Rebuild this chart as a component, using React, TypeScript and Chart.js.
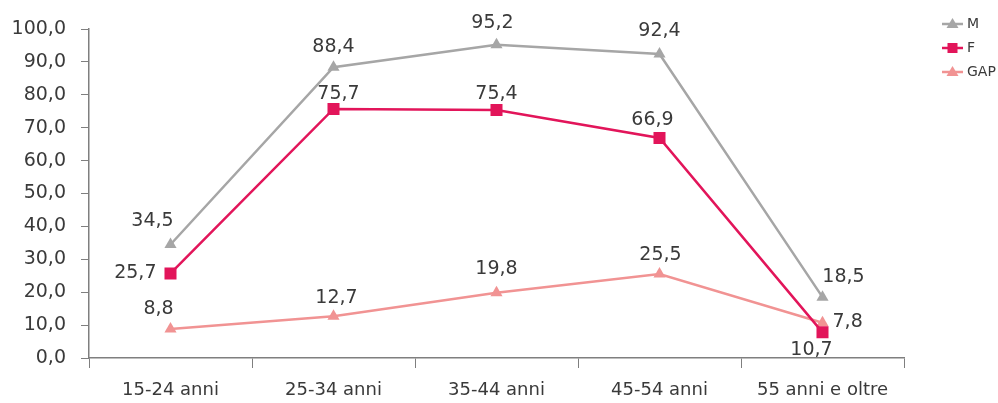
import React, { useEffect, useRef } from "react";
import { Chart, registerables } from "chart.js";

Chart.register(...registerables);

const categories = ["15-24 anni", "25-34 anni", "35-44 anni", "45-54 anni", "55 anni e oltre"];
const seriesM = [34.5, 88.4, 95.2, 92.4, 18.5];
const seriesF = [25.7, 75.7, 75.4, 66.9, 7.8];
const seriesGAP = [8.8, 12.7, 19.8, 25.5, 10.7];
const yTicks = [0, 10, 20, 30, 40, 50, 60, 70, 80, 90, 100];

// label placement: [dx, dy, align]
const labelPos: Record<string, [number, number, CanvasTextAlign][]> = {
  M: [[-18, -23, "center"], [0, -20, "center"], [-4, -22, "center"], [0, -23, "center"], [21, -20, "center"]],
  F: [[-14, 0, "right"], [5, -15, "center"], [0, -16, "center"], [-7, -18, "center"], [10, -10, "left"]],
  GAP: [[-12, -20, "center"], [3, -18, "center"], [0, -24, "center"], [1, -19, "center"], [-11, 27, "center"]],
};

const FONT = "'DejaVu Sans', sans-serif";
const fmt = (v: number) => v.toFixed(1).replace(".", ",");

const labelsPlugin = {
  id: "dataLabels",
  afterDatasetsDraw(chart: any) {
    const ctx = chart.ctx;
    ctx.save();
    ctx.font = `19px ${FONT}`;
    ctx.fillStyle = "#3a3a3a";
    ctx.textBaseline = "middle";
    chart.data.datasets.forEach((ds: any, i: number) => {
      const meta = chart.getDatasetMeta(i);
      const pos = labelPos[ds.label];
      meta.data.forEach((pt: any, j: number) => {
        const [dx, dy, align] = pos[j];
        ctx.textAlign = align;
        ctx.fillText(fmt(ds.data[j]), pt.x + dx, pt.y + dy);
      });
    });
    ctx.restore();
  },
};

const legendPlugin = {
  id: "customLegend",
  afterDraw(chart: any) {
    const ctx = chart.ctx;
    ctx.save();
    const x0 = 942;
    const rows = [24, 48, 72];
    chart.data.datasets.forEach((ds: any, i: number) => {
      const y = rows[i];
      ctx.strokeStyle = ds.borderColor;
      ctx.lineWidth = 2.5;
      ctx.beginPath();
      ctx.moveTo(x0, y);
      ctx.lineTo(x0 + 21, y);
      ctx.stroke();
      ctx.fillStyle = ds.borderColor;
      const cx = x0 + 10.5;
      if (ds.pointStyle === "rect") {
        ctx.fillRect(cx - 5, y - 5, 10, 10);
      } else {
        ctx.beginPath();
        ctx.moveTo(cx, y - 6);
        ctx.lineTo(cx + 6, y + 4);
        ctx.lineTo(cx - 6, y + 4);
        ctx.closePath();
        ctx.fill();
      }
      ctx.fillStyle = "#3a3a3a";
      ctx.font = `14px ${FONT}`;
      ctx.textAlign = "left";
      ctx.textBaseline = "middle";
      ctx.fillText(ds.label, x0 + 25, y);
    });
    ctx.restore();
  },
};

export default function App() {
  const ref = useRef<HTMLCanvasElement>(null);
  useEffect(() => {
    if (!ref.current) return;
    const chart = new Chart(ref.current, {
      type: "line",
      data: {
        labels: categories,
        datasets: [
          {
            label: "M",
            data: seriesM,
            borderColor: "#a6a6a6",
            backgroundColor: "#a6a6a6",
            borderWidth: 2.5,
            pointStyle: "triangle",
            pointRadius: 7,
            pointBorderWidth: 0,
            tension: 0,
          },
          {
            label: "F",
            data: seriesF,
            borderColor: "#e2155a",
            backgroundColor: "#e2155a",
            borderWidth: 2.5,
            pointStyle: "rect",
            pointRadius: 8.5,
            pointBorderWidth: 0,
            tension: 0,
          },
          {
            label: "GAP",
            data: seriesGAP,
            borderColor: "#f19393",
            backgroundColor: "#f19393",
            borderWidth: 2.5,
            pointStyle: "triangle",
            pointRadius: 7,
            pointBorderWidth: 0,
            tension: 0,
          },
        ],
      },
      options: {
        animation: false,
        responsive: true,
        maintainAspectRatio: false,
        layout: { padding: { top: 29, right: 94, left: 12, bottom: 1 } },
        plugins: {
          legend: { display: false },
          tooltip: { enabled: false },
        },
        scales: {
          x: {
            offset: true,
            afterFit: (axis: any) => {
              axis.height = 44;
              axis.paddingLeft = 0;
              axis.paddingRight = 0;
            },
            grid: {
              display: true,
              offset: true,
              drawOnChartArea: false,
              drawTicks: true,
              tickLength: 10,
              color: "#7f7f7f",
            },
            border: { color: "#7f7f7f", width: 1.5 },
            ticks: {
              color: "#3a3a3a",
              font: { family: FONT, size: 18 },
              padding: 12,
              maxRotation: 0,
            },
          },
          y: {
            min: 0,
            max: 100,
            afterFit: (axis: any) => {
              axis.width = 77;
              axis.paddingTop = 0;
              axis.paddingBottom = 0;
            },
            afterBuildTicks: (axis: any) => {
              axis.ticks = yTicks.map((v) => ({ value: v }));
            },
            grid: {
              display: true,
              drawOnChartArea: false,
              drawTicks: true,
              tickLength: 8,
              color: "#7f7f7f",
            },
            border: { color: "#7f7f7f", width: 1.5 },
            ticks: {
              color: "#3a3a3a",
              font: { family: FONT, size: 19 },
              padding: 15,
              callback: (v: any) => fmt(Number(v)),
            },
          },
        },
      },
      plugins: [labelsPlugin, legendPlugin],
    });
    return () => chart.destroy();
  }, []);
  return (
    <div style={{ position: "absolute", left: 0, top: 0, width: 998, height: 403 }}>
      <canvas ref={ref} />
    </div>
  );
}
